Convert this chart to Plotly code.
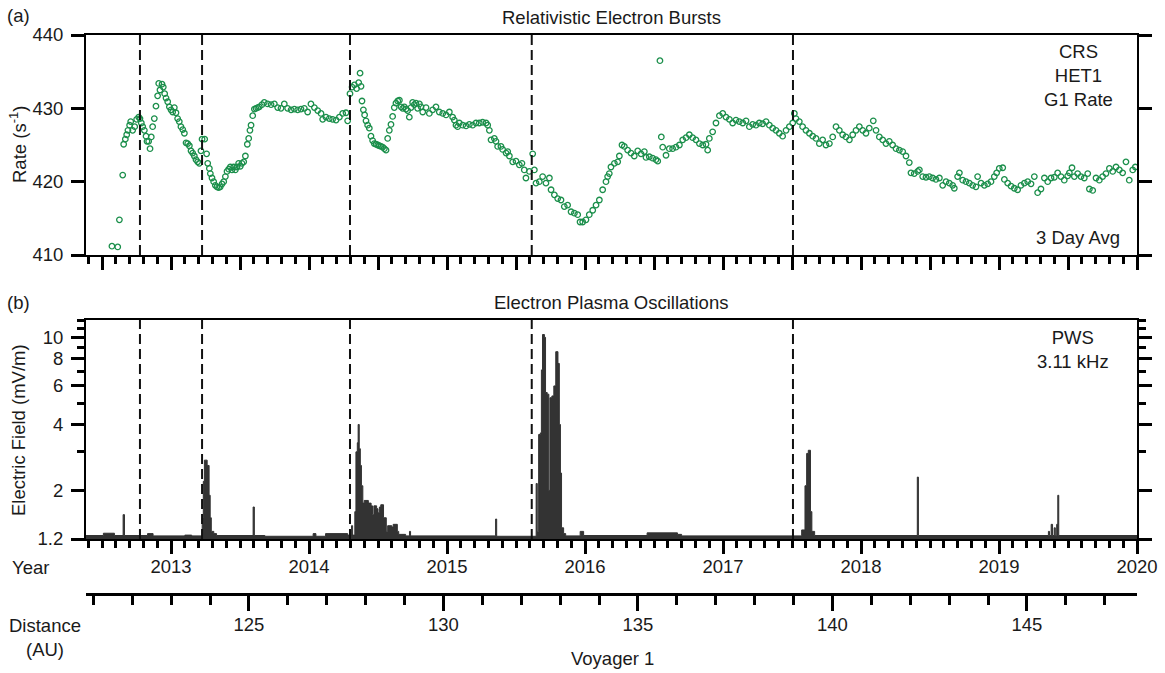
import math
import plotly.graph_objects as go

# ---------------- data ----------------
# Panel (a): CRS HET1 G1 rate, 3-day averages (year, counts/s)
crs_year = [
    2012.572, 2012.614, 2012.626, 2012.650, 2012.657, 2012.669, 2012.679, 2012.688, 2012.700, 2012.708,
    2012.722, 2012.737, 2012.751, 2012.766, 2012.775, 2012.785, 2012.795, 2012.807, 2012.819, 2012.826,
    2012.838, 2012.848, 2012.857, 2012.867, 2012.879, 2012.891, 2012.903, 2012.911, 2012.920, 2012.935,
    2012.944, 2012.954, 2012.964, 2012.976, 2012.988, 2013.000, 2013.012, 2013.024, 2013.036, 2013.048,
    2013.060, 2013.072, 2013.085, 2013.097, 2013.109, 2013.121, 2013.133, 2013.145, 2013.157, 2013.169,
    2013.181, 2013.193, 2013.205, 2013.217, 2013.225, 2013.244, 2013.258, 2013.266, 2013.278, 2013.285,
    2013.297, 2013.309, 2013.321, 2013.333, 2013.345, 2013.357, 2013.370, 2013.382, 2013.394, 2013.406,
    2013.418, 2013.430, 2013.442, 2013.454, 2013.466, 2013.478, 2013.490, 2013.502, 2013.514, 2013.527,
    2013.539, 2013.553, 2013.563, 2013.572, 2013.580, 2013.592, 2013.604, 2013.616, 2013.628, 2013.640,
    2013.659, 2013.676, 2013.700, 2013.725, 2013.749, 2013.773, 2013.797, 2013.821, 2013.845, 2013.870,
    2013.894, 2013.918, 2013.942, 2013.966, 2013.990, 2014.014, 2014.039, 2014.063, 2014.087, 2014.099,
    2014.123, 2014.147, 2014.171, 2014.196, 2014.220, 2014.244, 2014.268, 2014.280, 2014.297, 2014.312,
    2014.329, 2014.345, 2014.360, 2014.370, 2014.377, 2014.384, 2014.394, 2014.403, 2014.413, 2014.425,
    2014.437, 2014.449, 2014.461, 2014.473, 2014.486, 2014.498, 2014.510, 2014.522, 2014.534, 2014.546,
    2014.558, 2014.570, 2014.582, 2014.594, 2014.606, 2014.618, 2014.630, 2014.643, 2014.655, 2014.667,
    2014.679, 2014.691, 2014.703, 2014.715, 2014.727, 2014.739, 2014.751, 2014.763, 2014.775, 2014.787,
    2014.800, 2014.812, 2014.824, 2014.848, 2014.872, 2014.896,
    2014.920, 2014.944, 2014.969, 2014.993, 2015.017, 2015.041, 2015.053, 2015.065, 2015.077, 2015.089,
    2015.114, 2015.138, 2015.162, 2015.186, 2015.210, 2015.234, 2015.258, 2015.283, 2015.295, 2015.307,
    2015.319, 2015.343, 2015.355, 2015.367, 2015.391, 2015.403, 2015.428, 2015.440, 2015.452, 2015.476,
    2015.500, 2015.524, 2015.543, 2015.560, 2015.572, 2015.597, 2015.621, 2015.633, 2015.645, 2015.669,
    2015.693, 2015.717, 2015.742, 2015.754, 2015.778, 2015.802, 2015.826, 2015.850, 2015.874, 2015.899,
    2015.923, 2015.947, 2015.964, 2015.983, 2016.007, 2016.031, 2016.056, 2016.080, 2016.104, 2016.128,
    2016.152, 2016.164, 2016.176, 2016.188, 2016.213, 2016.237, 2016.249, 2016.268, 2016.285, 2016.309,
    2016.333, 2016.357, 2016.382, 2016.406, 2016.430, 2016.442, 2016.466, 2016.490, 2016.514, 2016.527,
    2016.543, 2016.553, 2016.563, 2016.587, 2016.611, 2016.635, 2016.659, 2016.684, 2016.708, 2016.732,
    2016.756, 2016.780, 2016.804, 2016.829, 2016.853, 2016.877, 2016.889, 2016.901, 2016.925, 2016.949,
    2016.974, 2016.998, 2017.022, 2017.046, 2017.070, 2017.094, 2017.118, 2017.143, 2017.167, 2017.191,
    2017.215, 2017.239, 2017.263, 2017.287, 2017.312, 2017.336, 2017.360, 2017.384, 2017.408, 2017.432,
    2017.457, 2017.481, 2017.505, 2017.517, 2017.529, 2017.553, 2017.577, 2017.601, 2017.626, 2017.650,
    2017.674, 2017.698, 2017.722, 2017.746, 2017.771, 2017.795, 2017.819, 2017.843, 2017.867, 2017.891,
    2017.916, 2017.940, 2017.964, 2017.988, 2018.012, 2018.036, 2018.060, 2018.089, 2018.109, 2018.133,
    2018.157, 2018.181, 2018.205, 2018.229, 2018.254, 2018.278, 2018.302, 2018.326, 2018.350, 2018.362,
    2018.386, 2018.411, 2018.423, 2018.447, 2018.471, 2018.495, 2018.519, 2018.543, 2018.568, 2018.592,
    2018.616, 2018.640, 2018.664, 2018.676, 2018.700, 2018.713, 2018.737, 2018.761, 2018.785, 2018.809,
    2018.833, 2018.845, 2018.870, 2018.894, 2018.918, 2018.942, 2018.966, 2018.983, 2019.002, 2019.027,
    2019.039, 2019.063, 2019.087, 2019.111, 2019.135, 2019.159, 2019.184, 2019.208, 2019.232, 2019.256,
    2019.280, 2019.304, 2019.329, 2019.353, 2019.377, 2019.401, 2019.425, 2019.449, 2019.473, 2019.498,
    2019.510, 2019.529, 2019.546, 2019.570, 2019.594, 2019.618, 2019.643, 2019.655, 2019.679, 2019.703,
    2019.727, 2019.751, 2019.775, 2019.800, 2019.824, 2019.848, 2019.872, 2019.896, 2019.920, 2019.944,
    2019.969, 2019.988,
]
crs_rate = [
    411.2, 411.1, 414.8, 420.9, 425.1, 425.8, 426.4, 427.0, 427.7, 428.2,
    427.0, 427.5, 428.5, 428.8, 428.6, 428.0, 427.5, 427.0, 426.2, 425.5,
    425.5, 424.5, 426.1, 427.5, 428.6, 430.3, 431.7, 433.4, 432.5, 433.3,
    432.9, 432.0, 431.4, 430.9, 430.2, 429.8, 429.5, 430.1, 429.4, 428.6,
    428.2, 427.5, 427.1, 426.6, 425.3, 425.2, 424.9, 424.2, 423.9, 423.5,
    423.0, 422.7, 422.5, 424.2, 425.8, 425.8, 423.8, 422.5, 421.8, 421.1,
    420.5, 420.0, 419.5, 419.3, 419.2, 419.3, 419.7, 420.0, 420.7, 421.4,
    421.7, 422.0, 421.6, 422.0, 421.6, 422.0, 422.5, 422.1, 422.5, 422.7,
    423.5, 425.1, 425.9, 427.0, 427.7, 429.0, 429.9, 430.0, 430.1, 430.2,
    430.5, 430.8, 430.6, 430.5, 430.6, 430.1, 430.0, 430.6, 430.0, 429.8,
    429.9, 429.8, 429.9, 430.0, 429.5, 430.6, 430.1, 429.7, 429.3, 428.5,
    428.8, 428.6, 428.5, 428.4, 428.8, 429.3, 429.4, 428.3, 432.0, 432.9,
    433.2, 432.7, 433.5, 434.8, 433.0, 431.0, 429.8, 429.1, 428.3, 427.7,
    427.3, 426.2, 425.6, 425.2, 425.1, 425.0, 424.9, 424.8, 424.7, 424.5,
    424.3, 425.9, 427.0, 427.8, 428.9, 430.1, 430.7, 431.0, 431.1, 430.2,
    430.0, 430.2, 429.9, 429.7, 428.8, 430.1, 430.8, 430.5, 430.7, 430.0,
    430.6, 430.2, 429.5, 430.1, 429.3, 429.8,
    430.2, 429.5, 429.3, 429.1, 429.5, 428.8, 428.4, 427.7, 427.5, 428.0,
    427.7, 427.6, 427.8, 427.7, 428.0, 428.0, 428.1, 428.0, 427.7, 427.0,
    425.7, 425.9, 425.5, 424.8, 424.8, 424.4, 423.9, 424.1, 423.5, 422.7,
    422.8, 422.3, 422.5, 421.6, 420.5, 421.4, 423.8, 421.6, 419.8, 420.0,
    420.7, 419.8, 420.5, 418.9, 418.2, 417.7, 417.5, 416.6, 416.8, 415.9,
    415.7, 415.5, 414.5, 414.5, 414.8, 415.5, 416.1, 416.8, 417.5, 418.9,
    420.0, 420.7, 421.1, 422.0, 422.5, 422.7, 423.5, 425.0, 424.8, 424.3,
    423.9, 423.5, 424.2, 423.8, 424.1, 423.3, 423.4, 423.2, 423.0, 422.8,
    436.5, 426.1, 424.7, 423.6, 424.5, 424.5, 424.7, 425.0, 425.7, 426.0,
    426.4, 426.0, 425.7, 425.2, 425.0, 425.1, 424.3, 425.9, 426.8, 428.0,
    429.0, 429.3, 428.8, 428.5, 428.0, 428.4, 428.2, 428.0, 428.3, 427.5,
    427.8, 427.7, 428.0, 427.9, 428.2, 427.7, 427.3, 427.0, 426.6, 426.2,
    427.0, 427.5, 428.0, 429.3, 428.6, 428.2, 427.5, 427.0, 426.6, 426.2,
    425.9, 425.2, 425.7, 425.0, 425.2, 426.1, 427.5, 427.0, 426.4, 426.1,
    425.7, 426.4, 427.0, 427.5, 427.0, 426.6, 427.3, 428.3, 427.0, 426.1,
    425.7, 425.2, 425.5, 425.0, 424.5, 424.3, 424.1, 423.5, 422.6, 421.2,
    421.1, 421.4, 421.6, 420.7, 420.6, 420.7, 420.5, 420.3, 420.5, 419.5,
    420.0, 419.8, 419.5, 419.1, 420.7, 421.2, 420.2, 420.0, 419.8, 419.5,
    419.3, 420.7, 419.8, 419.5, 419.7, 420.0, 420.7, 421.2, 421.8, 421.9,
    420.3, 419.8, 419.4, 419.1, 418.9, 419.5, 419.8, 420.0, 419.7, 420.7,
    418.5, 419.0, 420.5, 420.0, 420.5, 420.6, 421.2, 420.7, 420.2, 420.8,
    421.2, 421.9, 420.7, 421.1, 420.7, 420.5, 421.1, 419.0, 418.8, 420.5,
    420.2, 420.7, 421.1, 421.8, 421.4, 422.0, 421.6, 421.2, 422.7, 420.2,
    421.6, 422.0,
]

# Panel (b): PWS 3.11 kHz electric field (year, mV/m), stepwise
pws_year = [
    2012.384, 2012.510, 2012.590, 2012.653, 2012.663, 2012.830, 2012.870, 2013.100, 2013.150,
    2013.226, 2013.234, 2013.242, 2013.262, 2013.276, 2013.284, 2013.292, 2013.310, 2013.330,
    2013.595, 2013.604, 2013.680, 2014.030, 2014.050, 2014.120, 2014.280, 2014.308, 2014.316,
    2014.332, 2014.340, 2014.350, 2014.356, 2014.364, 2014.372, 2014.380, 2014.390, 2014.400,
    2014.430, 2014.450, 2014.460, 2014.470, 2014.490, 2014.500, 2014.510, 2014.520, 2014.540,
    2014.560, 2014.570, 2014.600, 2014.610, 2014.640, 2014.650, 2014.700, 2014.728, 2014.736,
    2015.352, 2015.360, 2015.646, 2015.654, 2015.664, 2015.676, 2015.684, 2015.692, 2015.706,
    2015.714, 2015.726, 2015.738, 2015.746, 2015.760, 2015.774, 2015.788, 2015.804, 2015.814,
    2015.822, 2015.830, 2015.845, 2015.860, 2015.965, 2015.990, 2016.450, 2016.670, 2016.700,
    2017.570, 2017.594, 2017.606, 2017.618, 2017.634, 2017.644, 2017.664, 2018.408, 2018.416,
    2019.358, 2019.366, 2019.378, 2019.388, 2019.400, 2019.408, 2019.418, 2019.426, 2019.433,
    2020.000,
]
pws_field = [
    1.245, 1.275, 1.245, 1.55, 1.245, 1.27, 1.24, 1.25, 1.24,
    1.5, 2.2, 2.75, 2.6, 1.9, 1.5, 1.3, 1.27, 1.245,
    1.68, 1.245, 1.235, 1.27, 1.235, 1.27, 1.25, 1.38, 1.25,
    1.6, 3.0, 3.3, 4.0, 3.1, 2.6, 2.1, 1.75, 1.8,
    1.75, 1.7, 1.55, 1.7, 1.65, 1.58, 1.68, 1.72, 1.5,
    1.3, 1.38, 1.36, 1.4, 1.3, 1.26, 1.24, 1.3, 1.24,
    1.48, 1.235, 2.15, 1.3, 3.6, 3.66, 7.1, 10.3, 10.0,
    5.6, 5.5, 2.0, 5.3, 5.4, 6.0, 8.6, 7.6, 4.0,
    2.4, 1.35, 1.27, 1.24, 1.3, 1.245, 1.28, 1.26, 1.24,
    1.32, 2.1, 2.95, 3.05, 1.6, 1.3, 1.245, 2.3, 1.245,
    1.3, 1.245, 1.4, 1.245, 1.35, 1.245, 1.4, 1.9, 1.245,
    1.245,
]

# Boundary crossings (dashed lines), in years
boundary_years = [2012.775, 2013.225, 2014.297, 2015.614, 2017.507]

# Axis ticks / labels
year_ticks = [2012.5, 2013.0, 2013.5, 2014.0, 2014.5, 2015.0, 2015.5, 2016.0, 2016.5,
              2017.0, 2017.5, 2018.0, 2018.5, 2019.0, 2019.5, 2020.0]
year_labels = ["", "2013", "", "2014", "", "2015", "", "2016", "",
               "2017", "", "2018", "", "2019", "", "2020"]
rate_ticks = [410, 420, 430, 440]
field_ticks = [1.2, 2, 4, 6, 8, 10]
field_labels = ["1.2", "2", "4", "6", "8", "10"]
field_minor = [3, 5, 7, 9, 11, 12]
dist_ticks = [125, 130, 135, 140, 145]
dist_labels = ["125", "130", "135", "140", "145"]

# ---------------- layout geometry ----------------
W, H = 1165, 673
L, R, T, B = 86, 28, 35, 80
PW, PH = W - L - R, H - T - B
YEAR_RANGE = [2012.384, 2020.0]
DIST_RANGE = [120.81, 147.83]


def pxx(px):
    return (px - L) / PW


def pxy(py):
    return (H - B - py) / PH


GREEN = "#1b8f4b"
INK = "#1a1a1a"
FONT = "Liberation Sans, Arial, Helvetica, sans-serif"
FS = 18.5

fig = go.Figure()

fig.add_trace(go.Scatter(
    x=crs_year, y=crs_rate, mode="markers", xaxis="x", yaxis="y",
    marker=dict(symbol="circle-open", size=5.5, color=GREEN, line=dict(width=1.3, color=GREEN)),
    showlegend=False, hoverinfo="skip"))

fig.add_trace(go.Scatter(
    x=[YEAR_RANGE[0], YEAR_RANGE[1]], y=[1.2, 1.2], mode="lines", xaxis="x2", yaxis="y2",
    line=dict(width=0, color="#333"), showlegend=False, hoverinfo="skip"))
fig.add_trace(go.Scatter(
    x=pws_year, y=pws_field, mode="lines", xaxis="x2", yaxis="y2",
    line=dict(width=1, color="#333333", shape="hv"), fill="tonexty", fillcolor="#333333",
    showlegend=False, hoverinfo="skip"))

# dummy trace to materialise the distance axis
fig.add_trace(go.Scatter(x=[DIST_RANGE[0]], y=[0.5], mode="markers", xaxis="x3", yaxis="y3",
                         marker=dict(opacity=0), showlegend=False, hoverinfo="skip"))

minor_years = [round(2012.4 + 0.1 * i, 1) for i in range(77)]
minor_dist = list(range(121, 148))

common_x = dict(range=YEAR_RANGE, tickmode="array", tickvals=year_ticks, ticks="outside",
                ticklen=13, tickwidth=2.5, tickcolor="black", showline=True, linewidth=2,
                linecolor="black", mirror=True, showgrid=False, zeroline=False,
                automargin=False,
                minor=dict(tickmode="array", tickvals=minor_years, ticks="outside", ticklen=7,
                           tickwidth=2.5, tickcolor="black", showgrid=False))

dom_top = [pxy(255), 1.0]
dom_bot = [pxy(539), pxy(320)]

fig.update_layout(
    width=W, height=H, margin=dict(l=L, r=R, t=T, b=B, autoexpand=False),
    paper_bgcolor="white", plot_bgcolor="white",
    font=dict(family=FONT, size=FS, color=INK),
    showlegend=False,
    xaxis=dict(domain=[0, 1], anchor="y", showticklabels=False, **common_x),
    xaxis2=dict(domain=[0, 1], anchor="y2", ticktext=year_labels, showticklabels=True,
                ticklabelstandoff=-3, tickfont=dict(size=FS, color=INK), **common_x),
    xaxis3=dict(domain=[0, 1], anchor="y3", range=DIST_RANGE, tickmode="array",
                tickvals=dist_ticks, ticktext=dist_labels, ticks="outside", ticklen=15,
                tickwidth=2.5, tickcolor="black", showline=True, linewidth=2.5,
                linecolor="black", showgrid=False, zeroline=False, ticklabelstandoff=-2,
                automargin=False,
                minor=dict(tickmode="array", tickvals=minor_dist, ticks="outside", ticklen=9,
                           tickwidth=2.5, tickcolor="black", showgrid=False)),
    yaxis=dict(domain=dom_top, anchor="x", range=[410, 440], tickmode="array",
               tickvals=rate_ticks, ticks="outside", ticklen=13, tickwidth=2.5,
               tickcolor="black", showline=True, linewidth=2, linecolor="black",
               mirror="ticks", showgrid=False, zeroline=False, ticklabelstandoff=4,
               automargin=False),
    yaxis2=dict(domain=dom_bot, anchor="x2", type="log",
                range=[math.log10(1.2), math.log10(12)], tickmode="array",
                tickvals=field_ticks, ticktext=field_labels, ticks="outside", ticklen=13,
                tickwidth=2.5, tickcolor="black", showline=True, linewidth=2,
                linecolor="black", mirror="ticks", showgrid=False, zeroline=False,
                ticklabelstandoff=4, automargin=False,
                minor=dict(tickmode="array", tickvals=field_minor, ticks="outside",
                           ticklen=7, tickwidth=2.5, tickcolor="black", showgrid=False)),
    yaxis3=dict(domain=[0, 0.002], anchor="x3", range=[0, 1], visible=False,
                automargin=False),
)

# dashed boundary lines
for yr in boundary_years:
    for xr, yr_ref in (("x", "y domain"), ("x2", "y2 domain")):
        fig.add_shape(type="line", xref=xr, yref=yr_ref, x0=yr, x1=yr, y0=0, y1=1,
                      line=dict(color="#111111", width=2, dash="10px,5px"), layer="above")


def note(text, px, py, xanchor="center", angle=0, size=FS):
    fig.add_annotation(text=text, x=pxx(px), y=pxy(py), xref="paper", yref="paper",
                       xanchor=xanchor, yanchor="middle", showarrow=False, textangle=angle,
                       font=dict(family=FONT, size=size, color=INK), align="center")


note("(a)", 18, 16)
note("(b)", 18, 302)
note("Relativistic Electron Bursts", 611, 17)
note("Electron Plasma Oscillations", 611, 302)
note("CRS<br>HET1<br>G1 Rate", 1078, 75)
note("3 Day Avg", 1078, 237)
note("PWS<br>3.11 kHz", 1073, 350)
note("Rate (s<sup>-1</sup>)", 18, 145, angle=-90)
note("Electric Field (mV/m)", 18, 430, angle=-90)
note("Year", 30, 567)
note("Distance<br>(AU)", 45, 637)
note("Voyager 1", 612, 658)

fig.write_html("out.html", config={"displayModeBar": False},
               post_script="document.body.style.margin='0';")
